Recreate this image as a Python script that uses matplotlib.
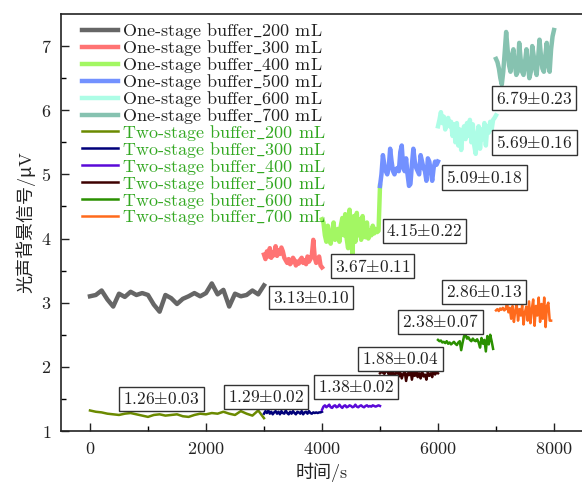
import numpy as np
import matplotlib
matplotlib.use("Agg")
import matplotlib.pyplot as plt

plt.rcParams['font.family'] = ['cmr10', 'Noto Sans CJK SC']
plt.rcParams['mathtext.fontset'] = 'cm'
plt.rcParams['axes.formatter.use_mathtext'] = True
plt.rcParams['axes.unicode_minus'] = False

# one-stage buffer series (sampled between start and end time)
one_200 = [3.10, 3.12, 3.19, 3.05, 2.94, 3.14, 3.09, 3.17, 3.12, 3.15, 3.12, 2.97, 2.86, 3.12, 3.07, 2.98,
           3.06, 3.10, 3.15, 3.10, 3.15, 3.30, 3.13, 3.20, 2.94, 3.14, 3.10, 3.12, 3.19, 3.13, 3.27]
one_300 = [3.75, 3.68, 3.80, 3.72, 3.85, 3.70, 3.78, 3.74, 3.88, 3.73, 3.82, 3.76, 3.86, 3.80, 3.70, 3.66,
           3.62, 3.68, 3.60, 3.63, 3.70, 3.66, 3.58, 3.64, 3.61, 3.67, 3.70, 3.62, 3.66, 3.60, 3.72, 3.64,
           3.68, 3.74, 3.98, 3.70, 3.62, 3.66, 3.72, 3.58, 3.55]
one_400 = [4.30, 4.25, 4.05, 3.95, 4.20, 4.00, 3.92, 4.10, 4.25, 3.98, 4.05, 4.15, 3.95, 4.20, 4.32, 4.05,
           4.38, 4.00, 3.85, 4.45, 4.10, 3.74, 4.35, 3.95, 4.40, 4.05, 4.30, 3.98, 4.35, 4.10, 4.02, 4.25,
           4.00, 4.12, 4.05, 4.20, 4.08, 4.15, 4.10, 4.12, 4.82]
one_500 = [4.82, 5.00, 5.30, 5.15, 5.05, 5.00, 5.10, 5.40, 5.20, 5.05, 5.00, 5.08, 5.10, 5.05, 5.35, 5.45,
           5.10, 5.05, 5.25, 5.00, 4.82, 4.85, 5.15, 5.40, 5.20, 5.10, 5.05, 5.00, 5.30, 5.20, 5.10, 5.05,
           4.90, 5.25, 5.20, 5.05, 4.90, 5.10, 5.20, 5.15, 5.20]
one_600 = [5.75, 5.85, 5.97, 5.80, 5.90, 5.70, 5.85, 5.88, 5.75, 5.82, 5.60, 5.78, 5.50, 5.80, 5.45, 5.70,
           5.38, 5.65, 5.75, 5.55, 5.80, 5.60, 5.85, 5.50, 5.78, 5.45, 5.32, 5.60, 5.75, 5.40, 5.70, 5.55,
           5.80, 5.45, 5.75, 5.65, 5.82, 5.70, 5.85, 5.88, 5.92]
one_700 = [6.80, 6.75, 6.65, 6.50, 6.40, 6.60, 6.90, 7.22, 6.95, 6.70, 6.60, 6.85, 6.95, 6.70, 6.55, 6.60,
           7.05, 6.80, 6.60, 6.55, 6.75, 6.95, 6.70, 6.50, 6.60, 7.00, 6.85, 6.65, 6.55, 6.80, 7.10, 6.85,
           6.65, 6.60, 6.85, 7.05, 6.70, 6.60, 6.95, 7.15, 7.25]

# two-stage buffer series
two_200 = [1.32, 1.30, 1.29, 1.27, 1.26, 1.25, 1.27, 1.28, 1.26, 1.24, 1.22, 1.25, 1.26, 1.24, 1.25, 1.26,
           1.23, 1.22, 1.25, 1.27, 1.26, 1.28, 1.27, 1.30, 1.27, 1.25, 1.31, 1.27, 1.24, 1.32, 1.20]
two_300 = [1.27, 1.31, 1.28, 1.32, 1.27, 1.30, 1.26, 1.29, 1.31, 1.27, 1.30, 1.26, 1.31, 1.28, 1.27, 1.32,
           1.28, 1.26, 1.30, 1.27, 1.31, 1.28, 1.26, 1.30, 1.29, 1.27, 1.31, 1.26, 1.29, 1.30, 1.27, 1.31,
           1.28, 1.27, 1.29, 1.28, 1.29, 1.28, 1.29, 1.29, 1.30]
two_400 = [1.33, 1.38, 1.40, 1.37, 1.39, 1.41, 1.37, 1.36, 1.39, 1.40, 1.37, 1.38, 1.41, 1.38, 1.36, 1.39,
           1.40, 1.37, 1.38, 1.40, 1.39, 1.37, 1.38, 1.41, 1.38, 1.37, 1.39, 1.40, 1.38, 1.37, 1.39, 1.40,
           1.38, 1.39, 1.38, 1.40, 1.39, 1.38, 1.39, 1.40, 1.39]
two_500 = [1.90, 1.92, 1.91, 1.89, 1.93, 1.95, 1.88, 1.92, 1.86, 1.94, 1.84, 1.90, 1.96, 1.85, 1.91, 1.82,
           1.89, 1.93, 1.78, 1.90, 1.87, 1.95, 1.80, 1.92, 1.86, 1.97, 1.84, 1.90, 1.82, 1.94, 1.85, 1.88,
           1.80, 1.92, 1.86, 1.90, 1.84, 1.98, 1.88, 1.92, 1.90]
two_600 = [2.42, 2.40, 2.41, 2.38, 2.39, 2.37, 2.40, 2.36, 2.38, 2.35, 2.37, 2.39, 2.36, 2.34, 2.38, 2.40,
           2.26, 2.38, 2.48, 2.50, 2.44, 2.46, 2.42, 2.40, 2.44, 2.41, 2.40, 2.43, 2.38, 2.30, 2.45, 2.36,
           2.42, 2.24, 2.48, 2.35, 2.50, 2.40, 2.28]
two_700 = [2.88, 2.90, 2.87, 2.91, 2.89, 2.92, 2.88, 2.90, 3.00, 2.85, 2.92, 2.75, 2.95, 2.70, 2.88, 2.98,
           2.72, 2.90, 2.80, 2.96, 2.66, 2.85, 2.94, 2.72, 3.02, 2.68, 2.90, 3.05, 2.64, 2.95, 2.80, 3.08,
           2.70, 2.98, 2.75, 3.08, 2.62, 2.95, 3.00, 2.72, 2.72]

one_spans = [(0, 3000), (3000, 4000), (4000, 5000), (5000, 6000), (6000, 7000), (7000, 8000)]
two_spans = [(0, 3000), (3000, 4000), (4000, 5000), (5000, 6000), (6000, 6950), (7000, 7950)]
volumes = ['200', '300', '400', '500', '600', '700']
one_colors = ['#666666', '#ff7373', '#a3f763', '#7391ff', '#adfde6', '#86c2b0']
two_colors = ['#6b8a00', '#00007a', '#5a0ad8', '#3d0000', '#2a9000', '#ff6a1c']

# mean±std annotations: (text x, text y, mean, std)
labels = [(3160, 3.08, '3.13', '0.10'), (4219, 3.57, '3.67', '0.11'), (5109, 4.12, '4.15', '0.22'),
          (6143, 4.95, '5.09', '0.18'), (7005, 5.50, '5.69', '0.16'), (6995, 6.19, '6.79', '0.23'),
          (574, 1.50, '1.26', '0.03'), (2379, 1.53, '1.29', '0.02'), (3931, 1.685, '1.38', '0.02'),
          (4695, 2.12, '1.88', '0.04'), (5384, 2.70, '2.38', '0.07'), (6133, 3.17, '2.86', '0.13')]

fig = plt.figure(figsize=(5.82, 4.83), dpi=100)
ax = fig.add_axes([61 / 582, 52 / 483, 522 / 582, 417 / 483])

one_data = [one_200, one_300, one_400, one_500, one_600, one_700]
two_data = [two_200, two_300, two_400, two_500, two_600, two_700]
for vals, (t0, t1), v, c in zip(one_data, one_spans, volumes, one_colors):
    t = np.linspace(t0, t1, len(vals))
    ax.plot(t, vals, color=c, lw=3.2, solid_joinstyle='round',
            label=r'One-stage buffer$\_$%s mL' % v)
for vals, (t0, t1), v, c in zip(two_data, two_spans, volumes, two_colors):
    t = np.linspace(t0, t1, len(vals))
    ax.plot(t, vals, color=c, lw=1.8, label=r'Two-stage buffer$\_$%s mL' % v)

for x, y, m, s in labels:
    ax.text(x, y, r'$%s{\pm}%s$' % (m, s), fontsize=12.5, ha='left', va='center', color='#222222',
            bbox=dict(boxstyle='square,pad=0.22', fc='white', ec='#333333', lw=1.0))

ax.set_xlim(-500, 8500)
ax.set_ylim(1, 7.5)
ax.set_xticks([0, 2000, 4000, 6000, 8000])
ax.set_xticks([1000, 3000, 5000, 7000], minor=True)
ax.set_yticks([1, 2, 3, 4, 5, 6, 7])
ax.set_yticks([1.5, 2.5, 3.5, 4.5, 5.5, 6.5], minor=True)
ax.tick_params(direction='in', which='major', length=6, width=1, labelsize=13, colors='#222222', pad=7)
ax.tick_params(direction='in', which='minor', length=3.5, width=1)
for sp in ax.spines.values():
    sp.set_linewidth(1.2)
    sp.set_color('#222222')

ax.set_xlabel('时间/s', fontsize=13, color='#222222')
ax.set_ylabel('光声背景信号/μV', fontsize=13, color='#222222')

leg = ax.legend(loc='upper left', bbox_to_anchor=(0.026, 1.0), frameon=False, fontsize=13,
                labelspacing=-0.17, handlelength=2.0, handletextpad=0.2, borderaxespad=0)
for i, txt in enumerate(leg.get_texts()):
    txt.set_color('#222222' if i < 6 else '#33a822')

fig.savefig('out.png', dpi=100)
